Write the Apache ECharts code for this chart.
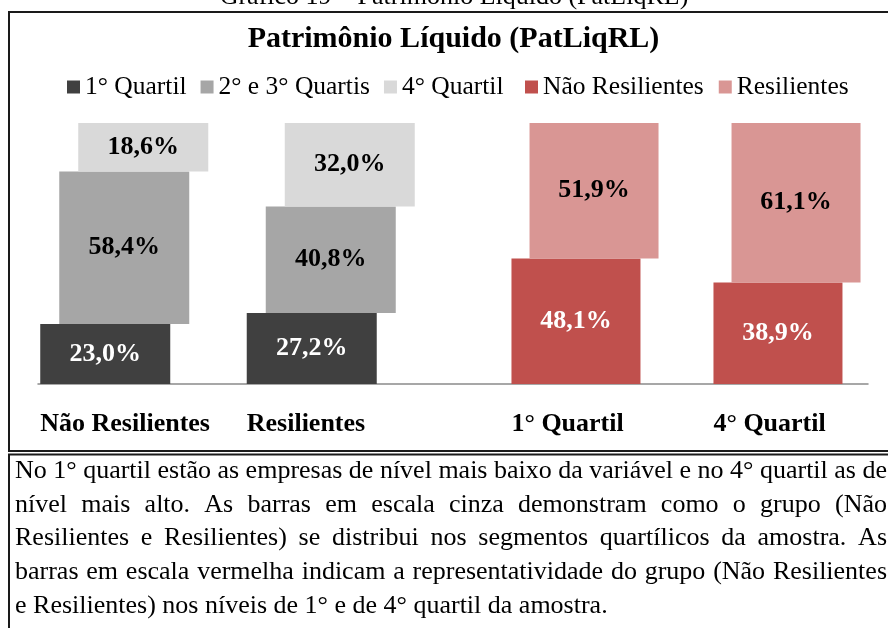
<!DOCTYPE html>
<html><head><meta charset="utf-8">
<script src="https://cdn.jsdelivr.net/npm/echarts@6/dist/echarts.min.js"></script>
<style>html,body{margin:0;padding:0;background:#fff;overflow:hidden}#c{width:888px;height:628px}</style>
</head><body><div id="c"></div>
<script>
// ---- data ----
const groupCategories = ['Não Resilientes', 'Resilientes'];
const quartilCategories = ['1° Quartil', '4° Quartil'];
const grayNames = ['1° Quartil', '2° e 3° Quartis', '4° Quartil'];
const redNames = ['Não Resilientes', 'Resilientes'];
const firstQuartil = [23.0, 27.2];
const midQuartis = [58.4, 40.8];
const fourthQuartil = [18.6, 32.0];
const naoResilientes = [48.1, 38.9];
const resilientes = [51.9, 61.1];
const captionText = 'Gráfico 19 – Patrimônio Líquido (PatLiqRL)';
const chartTitle = 'Patrimônio Líquido (PatLiqRL)';
const noteLines = [
  'No 1° quartil estão as empresas de nível mais baixo da variável e no 4° quartil as de',
  'nível mais alto. As barras em escala cinza demonstram como o grupo (Não',
  'Resilientes e Resilientes) se distribui nos segmentos quartílicos da amostra. As',
  'barras em escala vermelha indicam a representatividade do grupo (Não Resilientes',
  'e Resilientes) nos níveis de 1° e de 4° quartil da amostra.'
];

// ---- styles ----
const FONT = 'Liberation Serif';
const C_DARK = '#404040', C_MID = '#a6a6a6', C_LIGHT = '#d9d9d9';
const C_RED = '#c0504d', C_PINK = '#d99694';
const fmt = p => p.value.toFixed(1).replace('.', ',') + '%';
const sum = (a, b) => a.map((v, i) => v + b[i]);

const GRAY_W = 130, GRAY_GAP = '-85.38%';
const RED_W = 129, RED_GAP = '-86%';

function seg(name, data, stack, axis, color, txtColor, w, gap) {
  return {
    name, type: 'bar', stack, xAxisIndex: axis, yAxisIndex: axis, data,
    barWidth: w, barGap: gap,
    itemStyle: { color },
    label: { show: true, position: 'inside', formatter: fmt,
      fontFamily: FONT, fontWeight: 'bold', fontSize: 26, color: txtColor },
    emphasis: { disabled: true }
  };
}
function base(data, stack, axis, w, gap) {
  return {
    type: 'bar', stack, xAxisIndex: axis, yAxisIndex: axis, data,
    barWidth: w, barGap: gap, silent: true,
    itemStyle: { color: 'rgba(0,0,0,0)' }, label: { show: false },
    tooltip: { show: false }, emphasis: { disabled: true }
  };
}

function catAxis(gridIndex, data, boxW) {
  return {
    type: 'category', gridIndex, data,
    axisLine: { show: false }, axisTick: { show: false },
    axisLabel: {
      margin: 27, interval: 0,
      formatter: v => '{a|' + v + '}',
      rich: { a: { width: boxW, align: 'left', fontFamily: FONT, fontWeight: 'bold', fontSize: 26, color: '#000' } }
    }
  };
}
function valAxis(gridIndex) {
  return { type: 'value', gridIndex, min: 0, max: 100, show: false };
}

// ---- justified note text ----
const NOTE_FS = 26;
const measure = document.createElement('canvas').getContext('2d');
measure.font = NOTE_FS + 'px ' + FONT;
const noteLeft = 15, noteRight = 887;
const noteBaselines = [480, 514, 547, 581, 615];
const noteGraphics = [];
noteLines.forEach((line, li) => {
  const words = line.split(' ');
  const widths = words.map(w => measure.measureText(w).width);
  const total = widths.reduce((a, b) => a + b, 0);
  const gap = li < noteLines.length - 1
    ? (noteRight - noteLeft - total) / (words.length - 1)
    : measure.measureText(' ').width;
  let x = noteLeft;
  words.forEach((w, i) => {
    noteGraphics.push({
      type: 'text', x, y: noteBaselines[li] - 0.34 * NOTE_FS, silent: true,
      style: { text: w, fontFamily: FONT, fontSize: NOTE_FS, fill: '#000',
        align: 'left', verticalAlign: 'middle' }
    });
    x += widths[i] + gap;
  });
});

const chart = echarts.init(document.getElementById('c'), null, { renderer: 'canvas' });
chart.setOption({
  animation: false,
  backgroundColor: '#fff',
  grid: [
    { left: 21, width: 413, top: 123, height: 261 },
    { left: 484, width: 412, top: 123, height: 261 },
    { left: 38, width: 830, top: 123, height: 261 }
  ],
  xAxis: [
    catAxis(0, groupCategories, GRAY_W + 38),
    catAxis(1, quartilCategories, RED_W + 18),
    { type: 'category', gridIndex: 2, data: [''], axisTick: { show: false },
      axisLabel: { show: false },
      axisLine: { show: true, lineStyle: { color: '#8a8a8a', width: 1.5 } } }
  ],
  yAxis: [valAxis(0), valAxis(1), valAxis(2)],
  legend: [
    { data: grayNames, left: 67, top: 74, padding: 0, itemGap: 14,
      itemWidth: 13, itemHeight: 13, icon: 'rect', selectedMode: false,
      textStyle: { fontFamily: FONT, fontSize: 25.5, color: '#000' } },
    { data: redNames, left: 525, top: 74, padding: 0, itemGap: 15,
      itemWidth: 13, itemHeight: 13, icon: 'rect', selectedMode: false,
      textStyle: { fontFamily: FONT, fontSize: 25.5, color: '#000' } }
  ],
  series: [
    seg(grayNames[0], firstQuartil, 'g1', 0, C_DARK, '#fff', GRAY_W, GRAY_GAP),
    base(firstQuartil, 'g2', 0, GRAY_W, GRAY_GAP),
    seg(grayNames[1], midQuartis, 'g2', 0, C_MID, '#000', GRAY_W, GRAY_GAP),
    base(sum(firstQuartil, midQuartis), 'g3', 0, GRAY_W, GRAY_GAP),
    seg(grayNames[2], fourthQuartil, 'g3', 0, C_LIGHT, '#000', GRAY_W, GRAY_GAP),
    seg(redNames[0], naoResilientes, 'r1', 1, C_RED, '#fff', RED_W, RED_GAP),
    base(naoResilientes, 'r2', 1, RED_W, RED_GAP),
    seg(redNames[1], resilientes, 'r2', 1, C_PINK, '#000', RED_W, RED_GAP)
  ],
  graphic: [
    { type: 'rect', silent: true, shape: { x: 9, y: 12, width: 900, height: 439 },
      style: { fill: 'none', stroke: '#1a1a1a', lineWidth: 2 } },
    { type: 'rect', silent: true, shape: { x: 9, y: 454.5, width: 900, height: 200 },
      style: { fill: 'none', stroke: '#1a1a1a', lineWidth: 2 } },
    { type: 'text', x: 454, y: -3, silent: true,
      style: { text: captionText, fontFamily: FONT, fontSize: 26, fill: '#000', align: 'center', verticalAlign: 'middle' } },
    { type: 'text', x: 453.5, y: 39, silent: true,
      style: { text: chartTitle, fontFamily: FONT, fontWeight: 'bold', fontSize: 30, fill: '#000', align: 'center', verticalAlign: 'middle' } }
  ].concat(noteGraphics)
});
</script>
</body></html>
